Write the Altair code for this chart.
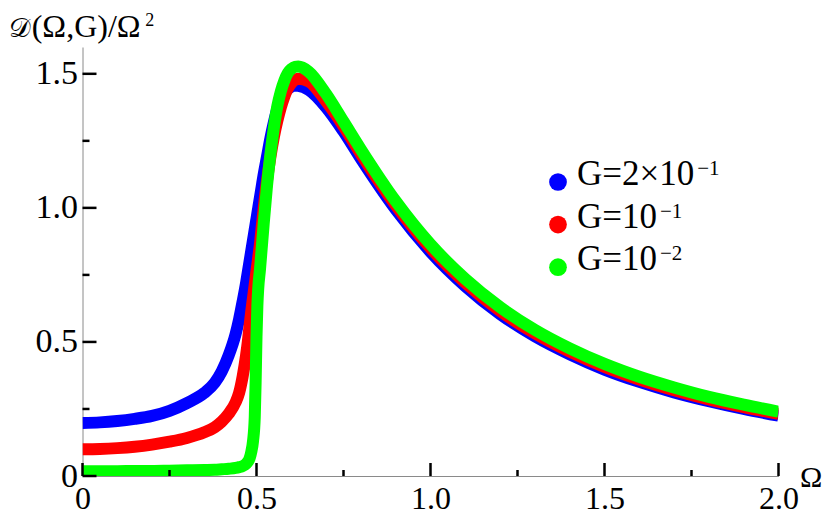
import altair as alt
import pandas as pd

# ---------------- data ----------------
omega = [0, 0.05, 0.1, 0.15, 0.2, 0.25, 0.3, 0.35,
         0.38, 0.4, 0.42, 0.44, 0.45, 0.46, 0.47,
         0.475, 0.48, 0.485, 0.49, 0.495,
         0.4975, 0.5, 0.5025, 0.505, 0.51, 0.515,
         0.52, 0.53, 0.54, 0.55, 0.56, 0.57, 0.58, 0.59,
         0.6, 0.61, 0.62, 0.65, 0.7,
         0.75, 0.8, 0.9, 1.0,
         1.1, 1.2, 1.3, 1.4, 1.5,
         1.6, 1.7, 1.8, 1.9, 2.0]

d_g_2e1 = [0.198, 0.200, 0.205, 0.213, 0.224, 0.243, 0.272, 0.310,
           0.348, 0.39, 0.45, 0.53, 0.585, 0.65, 0.72,
           0.76, 0.80, 0.84, 0.88, 0.92,
           0.94, 0.96, 0.98, 1.00, 1.04, 1.08,
           1.12, 1.19, 1.26, 1.32, 1.37, 1.405, 1.428, 1.443,
           1.452, 1.456, 1.455, 1.44, 1.375,
           1.285, 1.183, 0.994, 0.836,
           0.708, 0.604, 0.521, 0.454, 0.397,
           0.351, 0.312, 0.279, 0.250, 0.225]

d_g_1e1 = [0.100, 0.101, 0.104, 0.109, 0.117, 0.128, 0.142, 0.163,
           0.182, 0.203, 0.232, 0.275, 0.31, 0.37, 0.45,
           0.50, 0.56, 0.615, 0.665, 0.715,
           0.74, 0.765, 0.79, 0.815, 0.865, 0.93,
           0.99, 1.10, 1.19, 1.265, 1.325, 1.375, 1.415, 1.445,
           1.465, 1.477, 1.482, 1.472, 1.397,
           1.305, 1.201, 1.010, 0.850,
           0.721, 0.616, 0.532, 0.464, 0.407,
           0.360, 0.320, 0.286, 0.257, 0.232]

d_g_1e2 = [0.018, 0.018, 0.018, 0.019, 0.019, 0.020, 0.021, 0.022,
           0.023, 0.025, 0.027, 0.030, 0.033, 0.037, 0.045,
           0.053, 0.065, 0.09, 0.13, 0.22,
           0.35, 0.52, 0.635, 0.70, 0.77, 0.85,
           0.93, 1.08, 1.20, 1.30, 1.38, 1.435, 1.475, 1.503,
           1.518, 1.526, 1.527, 1.508, 1.425,
           1.322, 1.218, 1.025, 0.864,
           0.735, 0.630, 0.545, 0.476, 0.418,
           0.370, 0.330, 0.295, 0.266, 0.240]

series_values = [d_g_2e1, d_g_1e1, d_g_1e2]
legend_main = ["G=2×10", "G=10", "G=10"]
legend_sup = ["−1", "−1", "−2"]
colors = ["#0000ff", "#ff0000", "#00ff00"]

x_major = [0, 0.5, 1.0, 1.5, 2.0]
x_minor = [0.25, 0.75, 1.25, 1.75]
y_major = [0, 0.5, 1.0, 1.5]
y_minor = [0.25, 0.75, 1.25]

title_parts = ["𝒟", "(Ω,G)/Ω", "2"]
x_title = "Ω"

# ---------------- layout ----------------
W, H = 696, 429
LEFT, TOP = 74.5, 39
FONT = "Liberation Serif"

# approximate Times advance widths (em) for positioning superscripts
ADV = {"G": 0.722, "=": 0.564, "2": 0.5, "×": 0.564, "1": 0.5, "0": 0.5,
       "(": 0.333, ")": 0.333, "Ω": 0.768, ",": 0.25, "/": 0.278}


def text_width(s, size):
    return sum(ADV.get(c, 0.5) for c in s) * size


xscale = alt.Scale(domain=[0, 2], nice=False, zero=False)
yscale = alt.Scale(domain=[0, 1.6], nice=False, zero=False)

label_expr = "datum.value == 0 ? '0' : format(datum.value, '.1f')"
x_axis = alt.Axis(values=x_major, labelExpr=label_expr, ticks=False, grid=False,
                  domainColor="#8a8a8a", domainWidth=1, labelFont=FONT,
                  labelFontSize=32, labelColor="black", labelPadding=7,
                  title=None, labelFlush=False, labelOverlap=False)
y_axis = alt.Axis(values=y_major, labelExpr=label_expr, ticks=False, grid=False,
                  domainColor="#8a8a8a", domainWidth=1, labelFont=FONT,
                  labelFontSize=34, labelColor="black", labelPadding=5,
                  title=None, labelFlush=False, labelOverlap=False)

layers = []

# curves, drawn blue, red, green
for vals, col in zip(series_values, colors):
    df = pd.DataFrame({"omega": omega, "D": vals})
    layers.append(
        alt.Chart(df).mark_line(color=col, strokeWidth=12, interpolate="monotone",
                                clip=True, strokeCap="butt")
        .encode(x=alt.X("omega:Q", scale=xscale, axis=x_axis),
                y=alt.Y("D:Q", scale=yscale, axis=y_axis))
    )

# inward ticks
for vals, length in [(x_major, 13), (x_minor, 6)]:
    layers.append(
        alt.Chart(pd.DataFrame({"v": vals})).mark_rule(color="black", strokeWidth=2.5)
        .encode(x=alt.X("v:Q", scale=xscale, axis=x_axis),
                y=alt.value(H), y2=alt.value(H - length))
    )
for vals, length in [(y_major, 14), (y_minor, 7)]:
    layers.append(
        alt.Chart(pd.DataFrame({"v": vals})).mark_rule(color="black", strokeWidth=2.5)
        .encode(y=alt.Y("v:Q", scale=yscale, axis=y_axis),
                x=alt.value(0), x2=alt.value(length))
    )


def text_layer(s, x, y, size, baseline="alphabetic"):
    return (alt.Chart(pd.DataFrame({"t": [s]}))
            .mark_text(font=FONT, fontSize=size, color="black", align="left",
                       baseline=baseline)
            .encode(text="t:N", x=alt.value(x), y=alt.value(y)))


# titles; page coordinates -> plot coordinates
OX, OY = LEFT + 8, TOP + 8
TITLE_FS = 32
TITLE_BASE = 37
layers.append(text_layer(title_parts[0], 9 - OX, TITLE_BASE - OY, 27))
layers.append(text_layer(title_parts[1], 31.7 - OX, TITLE_BASE - OY, TITLE_FS))
layers.append(text_layer(title_parts[2],
                         31.7 + text_width(title_parts[1], TITLE_FS) + 3 - OX,
                         TITLE_BASE - 11 - OY, 18))
layers.append(text_layer(x_title, 800 - OX, 487 - OY, 30))

# legend
LEG_FS = 35
for i, (main, sup, col) in enumerate(zip(legend_main, legend_sup, colors)):
    base_y = 185 + i * 42.6 - OY
    tx = 577 - OX
    layers.append(
        alt.Chart(pd.DataFrame({"k": [main]})).mark_point(
            shape="circle", filled=True, size=314, color=col, opacity=1)
        .encode(x=alt.value(558 - OX), y=alt.value(base_y - 3))
    )
    layers.append(text_layer(main, tx, base_y, LEG_FS))
    layers.append(text_layer(sup, tx + text_width(main, LEG_FS) + 3, base_y - 10, 21))

chart = (alt.layer(*layers)
         .properties(width=W, height=H,
                     padding={"left": LEFT, "top": TOP, "right": 43.5, "bottom": 38},
                     autosize=alt.AutoSizeParams(type="none"),
                     background="white")
         .configure_view(stroke=None))

chart.save("out.html", embed_options={"renderer": "svg", "actions": False})
